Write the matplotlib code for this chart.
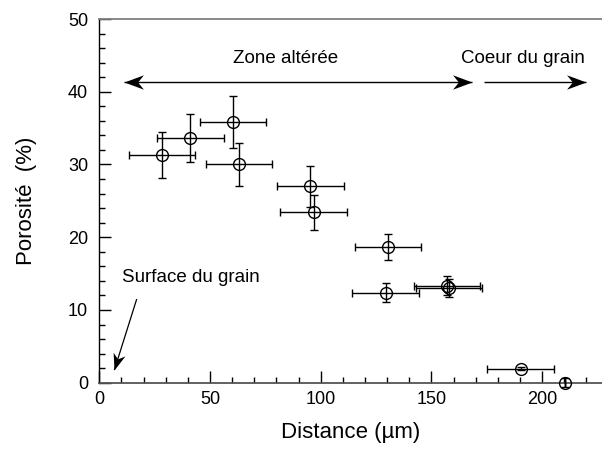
import numpy as np
import matplotlib
matplotlib.use("Agg")
import matplotlib.pyplot as plt
from matplotlib.path import Path
from matplotlib.markers import MarkerStyle
from matplotlib.transforms import Affine2D

plt.rcParams['font.family'] = ['Liberation Sans', 'DejaVu Sans']

# ---- data ----
distance = [28.2, 41.1, 60.5, 63.2, 95.3, 96.8, 130.3, 129.3, 157.0, 158.0, 190.2, 210.4]
porosity = [31.3, 33.6, 35.8, 30.0, 27.0, 23.4, 18.6, 12.4, 13.3, 13.0, 1.9, 0.0]
distance_err = [15, 15, 15, 15, 15, 15, 15, 15, 15, 15, 15, 0]
porosity_err = [3.1, 3.3, 3.6, 3.0, 2.8, 2.4, 1.8, 1.3, 1.3, 1.2, 0.2, 0.6]

x_major = [0, 50, 100, 150, 200]
y_major = [0, 10, 20, 30, 40, 50]

# annotation anchors (data coords)
zone_label = ("Zone altérée", 84.3, 43.95)
coeur_label = ("Coeur du grain", 191.3, 43.95)
surface_label = ("Surface du grain", 10.1, 13.9)
zone_arrow = ((11.1, 41.4), (168.1, 41.4))
coeur_arrow = ((173.8, 41.4), (219.6, 41.4))
surface_arrow = ((16.9, 11.5), (6.8, 1.75))

W, H = 602, 449
fig = plt.figure(figsize=(W / 100, H / 100), dpi=100)
left, right, bottom, top = 99.3, 602, 382.7, 19
ax = fig.add_axes([left / W, (H - bottom) / H, (right - left) / W, (bottom - top) / H])
ax.set_xlim(0, 227)
ax.set_ylim(0, 50)

ax.errorbar(distance, porosity, xerr=distance_err, yerr=porosity_err,
            fmt='o', mfc='none', mec='black', mew=1.0, ms=8.5,
            ecolor='black', elinewidth=1.0, capsize=2.6, capthick=1.0,
            zorder=3, clip_on=False)

ax.set_xticks(x_major)
ax.set_xticks(np.arange(0, 228, 10), minor=True)
ax.set_yticks(y_major)
ax.set_yticks(np.arange(0, 51, 2), minor=True)
ax.tick_params(axis='both', which='both', direction='in', colors='black',
               width=1.0, top=False, right=False, labelsize=13)
ax.tick_params(axis='both', which='major', length=8.5)
ax.tick_params(axis='both', which='minor', length=4)
ax.tick_params(axis='x', which='major', pad=6)
ax.tick_params(axis='y', which='major', pad=8)

ax.spines['right'].set_visible(False)
ax.spines['left'].set_color('black')
ax.spines['left'].set_linewidth(1.0)
ax.spines['bottom'].set_color('#555555')
ax.spines['bottom'].set_linewidth(1.3)
ax.spines['top'].set_color('#808080')
ax.spines['top'].set_linewidth(1.3)

ax.set_xlabel("Distance (µm)", fontsize=16)
ax.set_ylabel("Porosité  (%)", fontsize=16)
ax.xaxis.set_label_coords(0.5, -0.109)
ax.yaxis.set_label_coords(-0.123, 0.5)

for txt, tx, ty in (zone_label, coeur_label):
    ax.text(tx, ty, txt, ha='center', va='baseline', fontsize=13.5)
ax.text(surface_label[1], surface_label[2], surface_label[0], ha='left',
        va='baseline', fontsize=13.5)

# stealth arrow head marker, tip at origin pointing +x
stealth = Path([(0, 0), (-1, 0.37), (-0.7, 0), (-1, -0.37), (0, 0)],
               [Path.MOVETO, Path.LINETO, Path.LINETO, Path.LINETO, Path.CLOSEPOLY])


def draw_arrow(p0, p1, heads, size, lw=1.0, color='black'):
    ax.plot([p0[0], p1[0]], [p0[1], p1[1]], color=color, lw=lw, solid_capstyle='butt')
    d0 = ax.transData.transform(p0)
    d1 = ax.transData.transform(p1)
    ang = np.degrees(np.arctan2(d1[1] - d0[1], d1[0] - d0[0]))
    if 'end' in heads:
        m = MarkerStyle(stealth, transform=Affine2D().rotate_deg(ang))
        ax.plot([p1[0]], [p1[1]], marker=m, ms=size, color=color, mew=0, linestyle='none')
    if 'start' in heads:
        m = MarkerStyle(stealth, transform=Affine2D().rotate_deg(ang + 180))
        ax.plot([p0[0]], [p0[1]], marker=m, ms=size, color=color, mew=0, linestyle='none')


draw_arrow(zone_arrow[0], zone_arrow[1], ('start', 'end'), 28)
draw_arrow(coeur_arrow[0], coeur_arrow[1], ('end',), 28)
draw_arrow(surface_arrow[0], surface_arrow[1], ('end',), 24, lw=0.9)

fig.savefig("out.png", dpi=100)
